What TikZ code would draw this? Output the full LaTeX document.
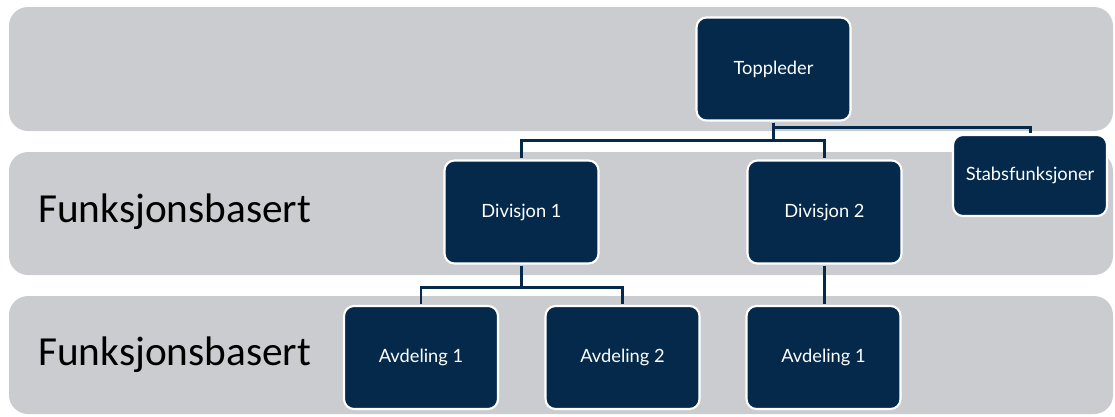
\documentclass[tikz,border=0pt]{standalone}
\usepackage{fontspec}
\setmainfont{Lato}
\newfontfamily\labelfont{Carlito}
\usepackage{tikz}

\definecolor{bandgray}{RGB}{203,204,208}
\definecolor{orgnavy}{RGB}{4,41,74}

\begin{document}
\begin{tikzpicture}[x=0.02cm, y=-0.02cm,
  unit/.style={draw=white, line width=1.2pt, fill=orgnavy, rounded corners=0.2cm,
    text=white, font=\fontsize{10.4}{12}\selectfont, minimum width=3.08cm, minimum height=2.06cm, inner sep=0pt},
  link/.style={draw=orgnavy, line width=1.7pt, shorten <=0.6pt, shorten >=0.6pt},
  level/.style={font=\labelfont\fontsize{23.5}{26}\selectfont, anchor=west, inner sep=0pt}]
  \useasboundingbox (0,0) rectangle (1115,416);
  % bands
  \fill[bandgray, rounded corners=0.38cm] (9,7) rectangle (1113,131);
  \fill[bandgray, rounded corners=0.38cm] (9,152) rectangle (1113,275);
  \fill[bandgray, rounded corners=0.38cm] (9,296) rectangle (1113,414);
  \node[level] (lvlA) at (38,212) {Funksjonsbasert};
  \node[level] (lvlB) at (38,355) {Funksjonsbasert};
  % units
  \node[unit] (top) at (773.5,69) {Toppleder};
  \node[unit, minimum height=1.62cm] (stab) at (1030,175.5) {Stabsfunksjoner};
  \node[unit] (div1) at (521.5,212) {Divisjon 1};
  \node[unit] (div2) at (824.5,212) {Divisjon 2};
  \node[unit] (avd1) at (421,357.5) {Avdeling 1};
  \node[unit] (avd2) at (622.5,357.5) {Avdeling 2};
  \node[unit] (avd3) at (823.5,357.5) {Avdeling 1};
  % links
  \draw[link] (top.south) -- ++(0,6) -| (stab.north);
  \draw[link] (top.south) -- ++(0,19) -| (div1.north);
  \draw[link] (top.south) -- ++(0,19) -| (div2.north);
  \draw[link] (div1.south) -- ++(0,23) -| (avd1.north);
  \draw[link] (div1.south) -- ++(0,23) -| (avd2.north);
  \draw[link] (div2.south) -- (div2.south |- avd3.north);
\end{tikzpicture}
\end{document}
